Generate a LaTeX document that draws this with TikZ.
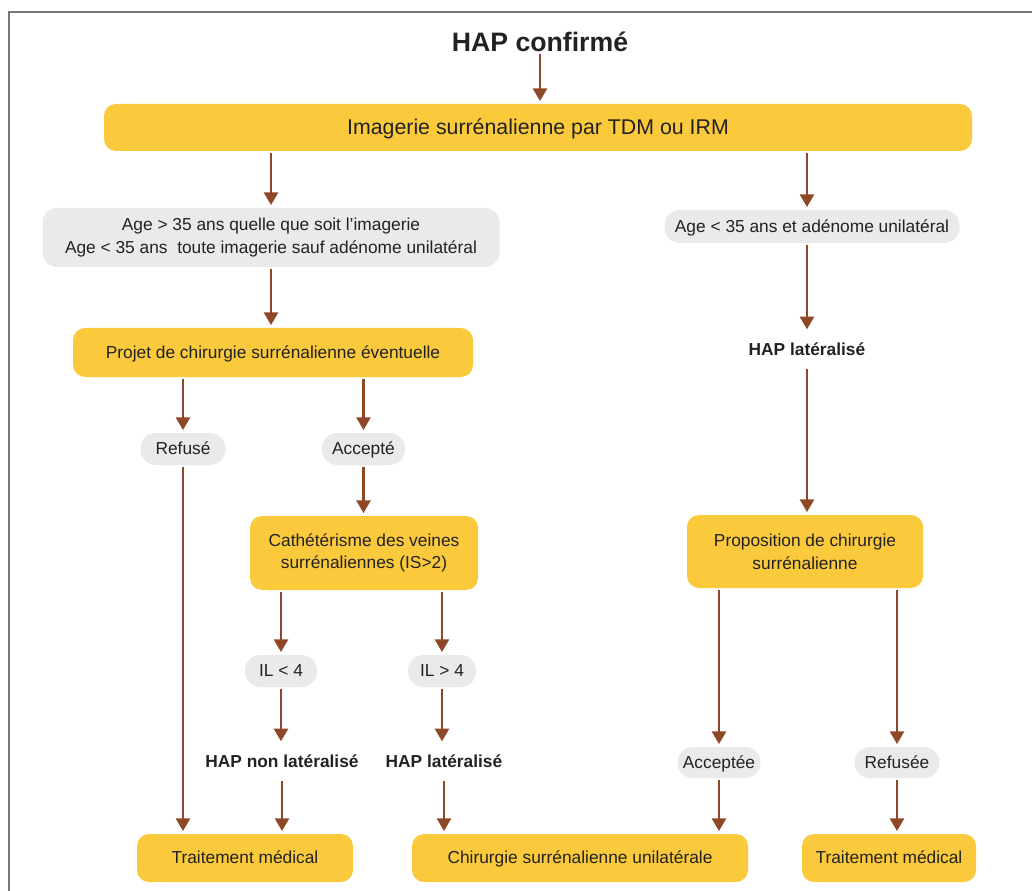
\documentclass[tikz,border=0pt]{standalone}
\usepackage{fontspec}
\setmainfont{Liberation Sans}
\usetikzlibrary{arrows.meta}
\definecolor{ycol}{RGB}{250,201,60}
\definecolor{gcol}{RGB}{234,234,234}
\definecolor{brn}{RGB}{142,72,40}
\definecolor{txt}{RGB}{34,34,34}
\definecolor{frm}{RGB}{120,120,120}
\newcommand{\pxu}{0.75pt}
\tikzset{
  base/.style={align=center, inner sep=0pt, text=txt, font=\fontsize{13}{17}\selectfont},
  one/.style={text height=8.6pt, text depth=0pt},
  ybox/.style={base, fill=ycol, rounded corners=9pt},
  gbox/.style={base, fill=gcol, rounded corners=11pt},
  pill/.style={base, one, fill=gcol, rounded corners=11.5pt, minimum height=32*\pxu},
  lbl/.style={base, one, inner sep=9pt, font=\fontsize{13}{17}\selectfont\bfseries},
  arr/.style={draw=brn, line width=1.9pt, -{Triangle[width=10.5pt,length=9.5pt]}, shorten >=2pt, shorten <=1pt},
}
\begin{document}
\begin{tikzpicture}[x=0.75pt,y=-0.75pt]
\useasboundingbox (0,0) rectangle (1032,891);
\draw[frm, line width=1pt] (9,891) -- (9,12) -- (1032,12);

\node[base, font=\fontsize{20}{24}\selectfont\bfseries] (title) at (540,42) {HAP confirmé};
\node[ybox, text height=10.6pt, text depth=0pt, minimum width=868*\pxu, minimum height=47*\pxu, font=\fontsize{16}{20}\selectfont] (img) at (538,127.5) {Imagerie surrénalienne par TDM ou IRM};

\node[gbox, minimum width=457*\pxu, minimum height=59*\pxu] (ageA) at (271,237.5) {Age > 35 ans quelle que soit l’imagerie\\Age < 35 ans\ \ toute imagerie sauf adénome unilatéral};
\node[pill, minimum width=295*\pxu, minimum height=33*\pxu] (ageB) at (812,226.5) {Age < 35 ans et adénome unilatéral};

\node[ybox, one, minimum width=400*\pxu, minimum height=49*\pxu] (projet) at (273,352.5) {Projet de chirurgie surrénalienne éventuelle};
\node[lbl] (hapL1) at (807,350) {HAP latéralisé};

\node[pill, minimum width=85*\pxu] (refuse) at (183,449) {Refusé};
\node[pill, minimum width=83*\pxu] (accepte) at (363.5,449) {Accepté};

\node[ybox, minimum width=228*\pxu, minimum height=74*\pxu] (cath) at (364,553) {Cathétérisme des veines\\surrénaliennes (IS>2)};
\node[ybox, minimum width=236*\pxu, minimum height=73*\pxu] (prop) at (805,551.5) {Proposition de chirurgie\\surrénalienne};

\node[pill, minimum width=72*\pxu] (ilA) at (281,671) {IL < 4};
\node[pill, minimum width=68*\pxu] (ilB) at (442,671) {IL > 4};

\node[lbl] (hapNL) at (282,762) {HAP non latéralisé};
\node[lbl] (hapL2) at (444,762) {HAP latéralisé};
\node[pill, minimum width=83*\pxu, minimum height=31*\pxu] (acceptee) at (719,762.5) {Acceptée};
\node[pill, minimum width=85*\pxu, minimum height=31*\pxu] (refusee) at (897,762.5) {Refusée};

\node[ybox, one, minimum width=216*\pxu, minimum height=48*\pxu] (tmA) at (245,858) {Traitement médical};
\node[ybox, one, minimum width=336*\pxu, minimum height=48*\pxu] (chir) at (580,858) {Chirurgie surrénalienne unilatérale};
\node[ybox, one, minimum width=174*\pxu, minimum height=48*\pxu] (tmB) at (889,858) {Traitement médical};

\draw[arr] (title.south) -- (img.north -| title);
\draw[arr] (img.south -| ageA) -- (ageA.north);
\draw[arr] (img.south -| hapL1) -- (ageB.north -| hapL1);
\draw[arr] (ageB.south -| hapL1) -- (hapL1.north);
\draw[arr] (hapL1.south) -- (prop.north -| hapL1);
\draw[arr] (ageA.south) -- (projet.north -| ageA);
\draw[arr] (projet.south -| refuse) -- (refuse.north);
\draw[arr] (projet.south -| accepte) -- (accepte.north);
\draw[arr] (accepte.south) -- (cath.north -| accepte);
\draw[arr] (refuse.south) -- (tmA.north -| refuse);
\draw[arr] (cath.south -| ilA) -- (ilA.north);
\draw[arr] (cath.south -| ilB) -- (ilB.north);
\draw[arr] (ilA.south) -- (hapNL.north -| ilA);
\draw[arr] (ilB.south) -- (hapL2.north -| ilB);
\draw[arr] (hapNL.south) -- (tmA.north -| hapNL);
\draw[arr] (hapL2.south) -- (chir.north -| hapL2);
\draw[arr] (prop.south -| acceptee) -- (acceptee.north);
\draw[arr] (prop.south -| refusee) -- (refusee.north);
\draw[arr] (acceptee.south) -- (chir.north -| acceptee);
\draw[arr] (refusee.south) -- (tmB.north -| refusee);
\end{tikzpicture}
\end{document}
